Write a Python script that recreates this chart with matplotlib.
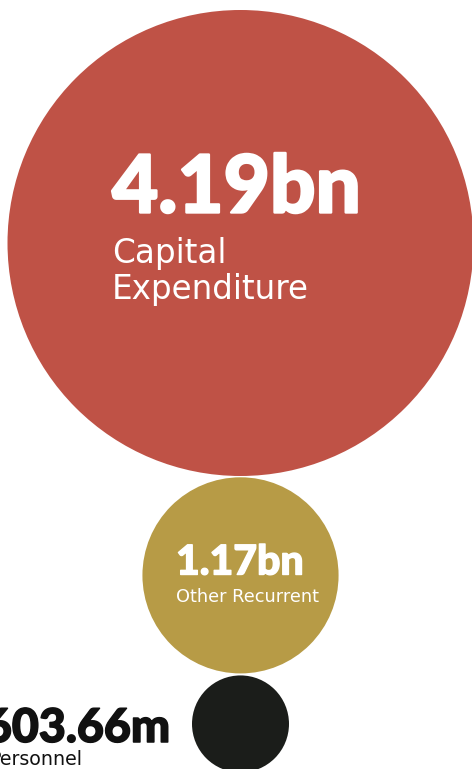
import matplotlib
matplotlib.use("Agg")
import matplotlib.pyplot as plt
from matplotlib.patches import Circle
import matplotlib.patheffects as pe

# Spending categories and amounts (in billions)
categories = ["Capital\nExpenditure", "Other Recurrent", "Personnel"]
values_bn = [4.19, 1.17, 0.60366]
value_labels = ["4.19bn", "1.17bn", "603.66m"]
colors = ["#BF5246", "#B79B46", "#1B1D1A"]

W, H = 472, 769
fig = plt.figure(figsize=(W / 100, H / 100), dpi=100)
fig.patch.set_facecolor("white")
ax = fig.add_axes([0, 0, 1, 1])
ax.set_xlim(0, W)
ax.set_ylim(H, 0)
ax.axis("off")

# Radius scale (power scale between min and max radius)
R_MIN, R_MAX, POW = 48.5, 233.0, 0.35
vmin, vmax = min(values_bn), max(values_bn)


def radius(v):
    t = (v ** POW - vmin ** POW) / (vmax ** POW - vmin ** POW)
    return R_MIN + (R_MAX - R_MIN) * t


# Stack the circles vertically along a common centre line
cx = 240.5
top = 10.0
gaps = [1.3, 2.0, 0.0]
for v, col, g in zip(values_bn, colors, gaps):
    r = radius(v)
    cy = top + r
    ax.add_patch(Circle((cx, cy), r, facecolor=col, edgecolor="none"))
    top = cy + r + g

BOLD = dict(family=["Lato", "DejaVu Sans"], fontweight=900)
REG = dict(family=["DejaVu Sans"], fontweight="normal")


def heavy(width, color):
    # thicken the bold numerals a little
    return [pe.withStroke(linewidth=width, foreground=color, joinstyle="round")]


# Capital expenditure label (inside big circle)
ax.text(112, 212.5, value_labels[0], color="white", fontsize=57.5,
        ha="left", va="baseline", path_effects=heavy(1.7, "white"), **BOLD)
ax.text(112, 263, "Capital", color="white", fontsize=23.5,
        ha="left", va="baseline", **REG)
ax.text(112, 299, "Expenditure", color="white", fontsize=23.5,
        ha="left", va="baseline", **REG)

# Other recurrent label (inside middle circle)
ax.text(176, 574.5, value_labels[1], color="white", fontsize=29.5,
        ha="left", va="baseline", path_effects=heavy(1.0, "white"), **BOLD)
ax.text(176, 602, categories[1], color="white", fontsize=12.8,
        ha="left", va="baseline", **REG)

# Personnel label (to the left of the small circle)
ax.text(170, 742, value_labels[2], color="#111111", fontsize=33.5,
        ha="right", va="baseline", path_effects=heavy(1.1, "#111111"), **BOLD)
ax.text(82, 765, categories[2], color="#111111", fontsize=13.7,
        ha="right", va="baseline", **REG)

fig.savefig("out.png", dpi=100, facecolor="white")
